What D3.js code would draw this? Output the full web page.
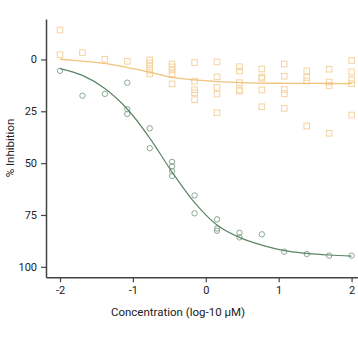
<!DOCTYPE html>
<html><head><meta charset="utf-8">
<script src="https://cdn.jsdelivr.net/npm/d3@7"></script>
<style>body{margin:0;background:#fff}svg{display:block}text{font-family:Roboto,"Noto Sans",sans-serif}</style>
</head><body><svg id="c" width="358" height="344"></svg>
<script>
// concentrations (log10 µM) of the 14 dilution columns
const doses = [-2, -1.692, -1.385, -1.077, -0.769, -0.462, -0.154, 0.154, 0.462, 0.769, 1.077, 1.385, 1.692, 2];
// green (active) replicate values, % inhibition per column
const greenVals = [[5.5],[17.5],[16.6],[11.2,24.0,26.3],[33.2,42.8],[49.4,51.5,53.9,56.2],[65.6,74.2],[77.1,81.5,82.6],[83.6,85.8],[84.3],[92.7],[93.8],[94.6],[94.6]];
// orange (inactive) replicate values
const orangeVals = [[-14.2,-2.3],[-3.3],[-0.1],[0.9],[0.2,1.7,3.4,5.1,7.0],[2.2,3.6,5.1,7.0,11.8],[1.5,10.5,14.6,16.1,19.4],[1.2,8.4,13.5,16.7,25.7],[3.5,5.6,11.2,14.7,15.2],[4.6,8.5,9.1,14.7,22.8],[2.2,8.1,14.5,16.5,23.6],[5.5,8.7,10.4,32.1],[4.7,10.9,12.6,35.6],[0.5,6.0,9.7,11.7,26.8]];
// fitted curves at each column
const greenFit = [4.4, 7.7, 14.0, 23.9, 37.9, 54.3, 69.0, 79.8, 85.8, 89.5, 92.2, 93.5, 94.3, 94.8];
const orangeFit = [-0.1, 0.8, 1.9, 3.9, 6.1, 8.7, 9.9, 10.7, 11.2, 11.4, 11.5, 11.5, 11.6, 11.7];
const xTicks = [-2, -1, 0, 1, 2];
const yTicks = [0, 25, 50, 75, 100];

const svg = d3.select("#c");
const x = d3.scaleLinear().domain([-2.192, 2.088]).range([46, 358]);
const y = d3.scaleLinear().domain([-19.5, 105]).range([19, 277.2]);

const axisColor = "#444";
const gx = svg.append("g").attr("transform", "translate(0,277.2)")
  .call(d3.axisBottom(x).tickValues(xTicks).tickSize(5).tickSizeOuter(0).tickPadding(4).tickFormat(d3.format("d")));
const gy = svg.append("g").attr("transform", "translate(46,0)")
  .call(d3.axisLeft(y).tickValues(yTicks).tickSize(5).tickSizeOuter(0).tickPadding(4));
[gx, gy].forEach(g => {
  g.select(".domain").attr("stroke", axisColor).attr("stroke-width", 1.5);
  g.selectAll(".tick line").attr("stroke", axisColor).attr("stroke-width", 1.2);
  g.selectAll(".tick text").attr("fill", "#222").style("font-size", "11px").style("font-family", "Roboto, sans-serif");
});
gx.selectAll(".tick text").text(d => d < 0 ? "-" + Math.abs(d) : d);

svg.append("text").attr("x", 178).attr("y", 316).attr("text-anchor", "middle")
  .style("font-size", "11.5px").attr("fill", "#222").text("Concentration (log-10 µM)");
svg.append("text").attr("transform", "translate(14,148) rotate(-90)").attr("text-anchor", "middle")
  .style("font-size", "11.5px").attr("fill", "#222").text("% Inhibition");

const orangeC = "#f0c27c", greenC = "#5b8566";
const flat = (vals) => vals.flatMap((arr, i) => arr.map(v => ({x: doses[i], y: v})));

// orange squares
svg.append("g").selectAll("rect").data(flat(orangeVals)).join("rect")
  .attr("x", d => x(d.x) - 2.8).attr("y", d => y(d.y) - 2.8).attr("width", 5.6).attr("height", 5.6)
  .attr("fill", "none").attr("stroke", "#f5d39f").attr("stroke-width", 1);
// green circles
svg.append("g").selectAll("circle").data(flat(greenVals)).join("circle")
  .attr("cx", d => x(d.x)).attr("cy", d => y(d.y)).attr("r", 2.7)
  .attr("fill", "none").attr("stroke", "#8aa895").attr("stroke-width", 1);

const line = d3.line().x((d, i) => x(doses[i])).y(d => y(d)).curve(d3.curveCatmullRom);
svg.append("path").attr("d", line(orangeFit)).attr("fill", "none").attr("stroke", orangeC).attr("stroke-width", 1.3);
svg.append("path").attr("d", line(greenFit)).attr("fill", "none").attr("stroke", greenC).attr("stroke-width", 1.2);
</script></body></html>
